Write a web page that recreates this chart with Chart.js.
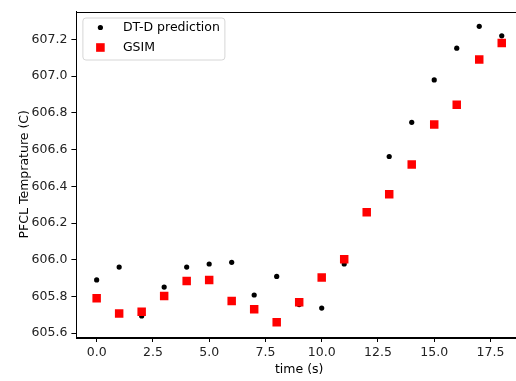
<!DOCTYPE html>
<html>
<head>
<meta charset="utf-8">
<script src="https://cdn.jsdelivr.net/npm/chart.js@4.4.0/dist/chart.umd.min.js"></script>
<style>
html,body{margin:0;padding:0;background:#fff;overflow:hidden;}
#wrap{width:530px;height:381px;}
</style>
</head>
<body>
<div id="wrap"><canvas id="c" width="530" height="381"></canvas></div>
<script>
const times = [0,1,2,3,4,5,6,7,8,9,10,11,12,13,14,15,16,17,18];
const dtdPrediction = [605.890,605.960,605.694,605.851,605.960,605.977,605.986,605.808,605.909,605.756,605.737,605.977,606.260,606.562,606.748,606.979,607.152,607.271,607.219];
const gsim = [605.790,605.707,605.717,605.803,605.884,605.890,605.776,605.730,605.660,605.769,605.904,606.003,606.258,606.357,606.519,606.736,606.844,607.090,607.180];
const xTicks = [0,2.5,5,7.5,10,12.5,15,17.5];
const yTicks = [605.6,605.8,606.0,606.2,606.4,606.6,606.8,607.0,607.2];
const seriesNames = ['DT-D prediction','GSIM'];
const xTitle = 'time (s)';
const yTitle = 'PFCL Temprature (C)';

const FONT = 'DejaVu Sans';
const FS = 12.5;

function pts(xs, ys){ return xs.map((x,i)=>({x:x,y:ys[i]})); }

function range(arr, m){ const lo=Math.min(...arr), hi=Math.max(...arr); const d=(hi-lo)*m; return [lo-d, hi+d]; }
const xr = range(times, 0.05);
const yr = range(dtdPrediction.concat(gsim), 0.05);

const frame = {
  id:'frame',
  afterDraw(chart){
    const a = chart.chartArea, ctx = chart.ctx;
    ctx.save();
    ctx.strokeStyle = '#000'; ctx.lineWidth = 1;
    ctx.strokeRect(Math.round(a.left)+0.5, Math.round(a.top)+0.5, Math.round(a.right-a.left), Math.round(a.bottom-a.top));
    // legend
    const lx = a.left + 6, ly = a.top + 6, lw = 142, lh = 42;
    ctx.globalAlpha = 0.8;
    ctx.fillStyle = '#fff';
    ctx.beginPath(); ctx.roundRect(lx+0.5, ly+0.5, lw, lh, 3); ctx.fill();
    ctx.globalAlpha = 1;
    ctx.strokeStyle = '#d6d6d6'; ctx.stroke();
    const mx = lx + 18;
    ctx.fillStyle = '#000';
    ctx.beginPath(); ctx.arc(mx, ly+10, 2.6, 0, Math.PI*2); ctx.fill();
    ctx.fillStyle = '#ff0000';
    ctx.fillRect(mx-4.3, ly+30-4.3, 8.6, 8.6);
    ctx.fillStyle = '#000';
    ctx.font = FS + 'px "' + FONT + '"';
    ctx.textBaseline = 'middle';
    ctx.fillText(seriesNames[0], lx + 40.5, ly + 10);
    ctx.fillText(seriesNames[1], lx + 40.5, ly + 30);
    ctx.restore();
  }
};

new Chart(document.getElementById('c'), {
  type:'scatter',
  data:{
    datasets:[
      {label:seriesNames[0], data:pts(times,dtdPrediction), pointStyle:'circle', pointRadius:2.6, pointHoverRadius:2.6, borderWidth:0, backgroundColor:'#000', borderColor:'#000', order:1},
      {label:seriesNames[1], data:pts(times,gsim), pointStyle:'rect', pointRadius:6, pointHoverRadius:6, borderWidth:0, backgroundColor:'#ff0000', borderColor:'#ff0000', order:0}
    ]
  },
  options:{
    responsive:false,
    animation:false,
    events:[],
    layout:{padding:{top:5, right:8, left:0, bottom:0}},
    plugins:{legend:{display:false}, tooltip:{enabled:false}, title:{display:false}},
    scales:{
      x:{
        type:'linear', min:xr[0], max:xr[1],
        afterBuildTicks(s){ s.ticks = xTicks.map(v=>({value:v})); },
        afterFit(s){ s.height = 44; },
        ticks:{callback:v=>v.toFixed(1), color:'#222', font:{family:FONT,size:FS}, padding:3, maxRotation:0, autoSkip:false},
        grid:{display:true, drawOnChartArea:false, drawTicks:true, tickLength:5, color:'#000', tickWidth:1},
        border:{display:true, color:'#000', width:1},
        title:{display:true, text:xTitle, color:'#000', font:{family:FONT,size:FS}, padding:{top:0,bottom:4}}
      },
      y:{
        type:'linear', min:yr[0], max:yr[1],
        afterBuildTicks(s){ s.ticks = yTicks.map(v=>({value:v})); },
        afterFit(s){ s.width = 76.4; },
        ticks:{callback:v=>v.toFixed(1), color:'#222', font:{family:FONT,size:FS}, padding:4, autoSkip:false},
        grid:{display:true, drawOnChartArea:false, drawTicks:true, tickLength:5, color:'#000', tickWidth:1},
        border:{display:true, color:'#000', width:1},
        title:{display:true, text:yTitle, color:'#000', font:{family:FONT,size:FS}, padding:{top:17,bottom:0}}
      }
    }
  },
  plugins:[frame]
});
</script>
</body>
</html>
